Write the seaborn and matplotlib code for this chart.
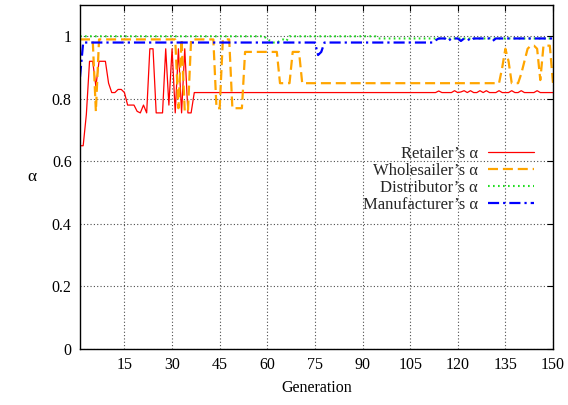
import matplotlib
matplotlib.use("Agg")
import matplotlib.pyplot as plt
import seaborn as sns
import pandas as pd
import numpy as np

# ---------------- data ----------------
generations = list(range(1, 151))

retailer = ([0.65, 0.65, 0.75, 0.92, 0.92, 0.84, 0.92, 0.92, 0.92, 0.85,
             0.82, 0.82, 0.83, 0.83, 0.82, 0.78, 0.78, 0.78, 0.76, 0.755,
             0.78, 0.755, 0.96, 0.96, 0.755, 0.755, 0.755, 0.96, 0.78, 0.96,
             0.755, 0.96, 0.755, 0.96, 0.755, 0.755, 0.82]
            + [0.82] * 76
            + [0.825, 0.82, 0.82, 0.82, 0.82, 0.826, 0.82, 0.822, 0.826, 0.82,
               0.826, 0.82, 0.82, 0.826, 0.82, 0.826, 0.82, 0.82, 0.82, 0.826,
               0.82, 0.82, 0.82, 0.826, 0.82, 0.82, 0.826, 0.82, 0.82, 0.82,
               0.82, 0.826, 0.82, 0.82, 0.82, 0.82, 0.82])

wholesaler = ([0.99] * 5 + [0.76] + [0.99] * 25 + [0.77, 0.99, 0.76, 0.76]
              + [0.99] * 8 + [0.77, 0.77] + [0.99] * 3 + [0.77] * 4
              + [0.95] * 11 + [0.85] * 4 + [0.95] * 3 + [0.85] * 63
              + [0.90, 0.96, 0.92, 0.85, 0.85, 0.85, 0.88, 0.92, 0.96, 0.97,
                 0.97, 0.96, 0.86, 0.97, 0.97, 0.97, 0.85])

distributor = ([1.0] * 59
               + [0.99, 0.985, 0.98, 0.98, 0.985, 0.99, 0.985]
               + [1.0] * 28
               + [0.993] * 56)

manufacturer = ([0.87] + [0.98] * 74 + [0.94, 0.95] + [0.98] * 35
                + [0.987, 0.993, 0.993, 0.993, 0.985, 0.993, 0.993, 0.993,
                   0.985, 0.993, 0.993, 0.985]
                + [0.993] * 6 + [0.985] + [0.993] * 19)

labels = ["Retailer’s α", "Wholesailer’s α", "Distributor’s α", "Manufacturer’s α"]
x_ticks = [15, 30, 45, 60, 75, 90, 105, 120, 135, 150]
y_ticks = [0, 0.2, 0.4, 0.6, 0.8, 1]
y_tick_labels = ["0", "0.2", "0.4", "0.6", "0.8", "1"]

# ---------------- plotting ----------------
sns.set_theme(style="white")
plt.rcParams["font.family"] = ["Liberation Serif", "DejaVu Serif"]
plt.rcParams["mathtext.fontset"] = "stix"

fig = plt.figure(figsize=(5.68, 4.05), dpi=100)
ax = fig.add_axes([80 / 568, 1 - 349 / 405, 473 / 568, 344 / 405])

series = [retailer, wholesaler, distributor, manufacturer]
colors = ["#ff0000", "#ffa500", "#22dd22", "#0000ff"]
widths = [0.9, 1.6, 1.5, 1.6]
dashes = [None, (4.5, 2.2), (0.8, 1.6), (5, 1.8, 1, 1.8)]

for vals, lab, col, lw, ds in zip(series, labels, colors, widths, dashes):
    df = pd.DataFrame({"Generation": generations, "alpha": vals})
    line_kw = dict(color=col, linewidth=lw, label=lab)
    sns.lineplot(data=df, x="Generation", y="alpha", ax=ax, **line_kw)
    ln = ax.get_lines()[-1]
    if ds is not None:
        ln.set_dashes(ds)

ax.set_xlim(1, 150)
ax.set_ylim(0, 1.1)
ax.set_xticks(x_ticks)
ax.set_xticklabels([str(t) for t in x_ticks])
ax.set_yticks(y_ticks)
ax.set_yticklabels(y_tick_labels)

ax.tick_params(axis="both", which="both", direction="in", length=4,
               width=0.8, color="black", top=True, right=True,
               labelsize=11.5, pad=6, labelcolor="black")
ax.grid(True, color="0.3", linestyle=(0, (1, 2)), linewidth=0.8)
for sp in ax.spines.values():
    sp.set_color("black")
    sp.set_linewidth(1.0)

ax.set_xlabel("Generation", fontsize=11.5, labelpad=5, color="black")
ax.set_ylabel("α", fontsize=12.5, rotation=0, labelpad=14, color="black",
              va="center")

leg = ax.legend(loc="upper right", bbox_to_anchor=(0.96, 0.59),
                frameon=False, markerfirst=False, fontsize=12,
                handlelength=2.75, handletextpad=0.6, labelspacing=0.06,
                borderaxespad=0, borderpad=0)

fig.savefig("out.png", dpi=100)
